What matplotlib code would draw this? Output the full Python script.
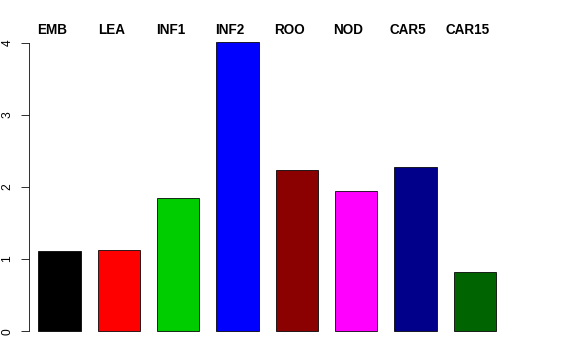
import numpy as np
import matplotlib
matplotlib.use("Agg")
import matplotlib.pyplot as plt

# values
groups = ["EMB", "LEA", "INF1", "INF2", "ROO", "NOD", "CAR5", "CAR15"]
values = [1.11, 1.12, 1.85, 4.01, 2.23, 1.94, 2.28, 0.82]
colors = ["black", "red", "#00CD00", "blue", "#8B0000", "magenta", "#00008B", "#006400"]
yticks = [0, 1, 2, 3, 4]

plt.rcParams["font.family"] = ["Liberation Sans", "DejaVu Sans"]

W, H = 576, 360
fig = plt.figure(figsize=(W / 72, H / 72), dpi=72)

# axes placed in pixel terms to mimic R's barplot layout
left_px, right_px = 29.3, 514.5
top_px, bottom_px = 30.4, 342.8
ax = fig.add_axes([left_px / W, (H - bottom_px) / H,
                   (right_px - left_px) / W, (bottom_px - top_px) / H])

# R barplot style: width 1, space 0.4
x = 0.4 + np.arange(len(groups)) * 1.4 + 0.5
ax.bar(x, values, width=1.0, color=colors, edgecolor="black", linewidth=0.8)

ax.set_xlim(0.19, 11.632)
ax.set_ylim(-0.16, 4.17)

for s in ["top", "right", "bottom"]:
    ax.spines[s].set_visible(False)
ax.spines["left"].set_bounds(0, 4)
ax.spines["left"].set_linewidth(0.8)
ax.set_xticks([])
ax.set_yticks(yticks)
ax.set_yticklabels([str(t) for t in yticks], rotation=90, va="center", fontsize=12)
ax.tick_params(axis="y", length=8, width=0.8, pad=8)

for xi, g in zip(x, groups):
    ax.text(xi - 0.18, 4.18, g, ha="center", va="center", fontsize=13.5,
            fontweight="bold", clip_on=False)

fig.savefig("out.png", dpi=72)
